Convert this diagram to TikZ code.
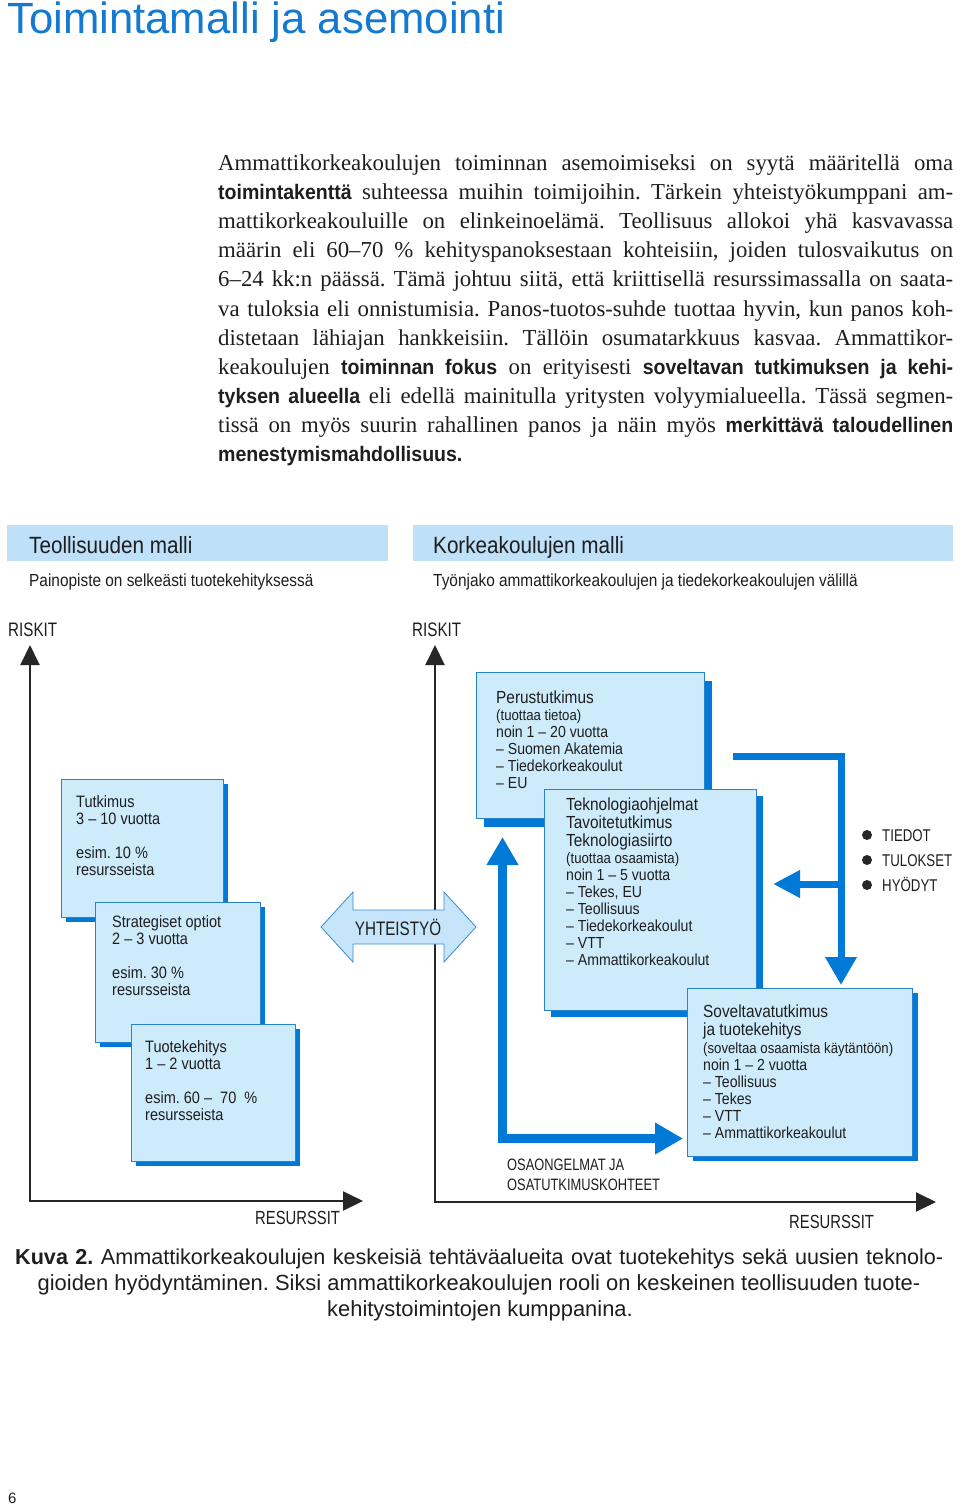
\documentclass[tikz,border=0pt]{standalone}
\usepackage{fontspec}
\setmainfont{Liberation Serif}
\newfontfamily\hv{Liberation Sans}
\newfontfamily\hvn[FakeStretch=0.88]{Liberation Sans}
\newfontfamily\hvc[FakeStretch=0.78]{Liberation Sans}
\newfontfamily\hvb[FakeStretch=0.93]{Liberation Sans}
\usetikzlibrary{arrows.meta,shadows}
\definecolor{titleblue}{RGB}{20,122,208}
\definecolor{hdrfill}{RGB}{190,224,248}
\definecolor{boxfill}{RGB}{206,235,252}
\definecolor{boxline}{RGB}{40,130,205}
\definecolor{sblue}{RGB}{0,122,214}
\definecolor{coopfill}{RGB}{198,229,250}
\definecolor{coopline}{RGB}{60,140,210}
\definecolor{ink}{RGB}{30,30,30}
\frenchspacing
\newcommand\fsz[1]{\fontsize{#1}{#1}\selectfont}
\newcommand\VL[1]{\vtop{\baselineskip=17pt\lineskiplimit=-100pt\lineskip=0pt\relax #1}}
\newcommand\LH[1]{\hbox{#1}}
\newcommand\Bsf[1]{{\hvb\bfseries\fsz{21}#1}}
\newcommand\PL[1]{\makebox[735pt][s]{#1}}
\tikzset{
  txt/.style={anchor=base west, inner sep=0pt, text=ink},
  hdr/.style={fill=hdrfill, draw=none, inner sep=0pt, anchor=north west},
  bx/.style={draw=boxline, line width=0.8pt, fill=boxfill, inner sep=0pt, anchor=north west},
  shA/.style={drop shadow={shadow xshift=5pt,shadow yshift=-5pt,fill=sblue,opacity=1}},
  shB/.style={drop shadow={shadow xshift=8pt,shadow yshift=-9pt,fill=sblue,opacity=1}},
  shC/.style={drop shadow={shadow xshift=7pt,shadow yshift=-7pt,fill=sblue,opacity=1}},
  shD/.style={drop shadow={shadow xshift=6pt,shadow yshift=-5pt,fill=sblue,opacity=1}},
  axis/.style={line width=2pt, draw=black!85, {Triangle[length=20pt,width=19pt]}-{Triangle[length=20pt,width=19pt]}},
  fat/.style={draw=sblue, line width=#1, line join=miter},
}
\begin{document}
\begin{tikzpicture}[x=1pt,y=-1pt]
\useasboundingbox (0,0) rectangle (960,1506);
\fill[white] (0,0) rectangle (960,1506);

% title
\node[anchor=base west, inner sep=0pt, text=titleblue, font=\hv\fsz{43.7}] (title) at (7,34) {Toimintamalli ja asemointi};

% paragraph
\begin{scope}[every node/.style={txt, font=\fsz{22.8}}]
\node (p1) at (218,171) {\PL{Ammattikorkeakoulujen toiminnan asemoimiseksi on syytä määritellä oma}};
\node (p2) at (218,200) {\PL{\Bsf{toimintakenttä} suhteessa muihin toimijoihin. Tärkein yhteistyökumppani am-}};
\node (p3) at (218,229) {\PL{mattikorkeakouluille on elinkeinoelämä. Teollisuus allokoi yhä kasvavassa}};
\node (p4) at (218,258) {\PL{määrin eli 60–70 \% kehityspanoksestaan kohteisiin, joiden tulosvaikutus on}};
\node (p5) at (218,287) {\PL{6–24 kk:n päässä. Tämä johtuu siitä, että kriittisellä resurssimassalla on saata-}};
\node (p6) at (218,316) {\PL{va tuloksia eli onnistumisia. Panos-tuotos-suhde tuottaa hyvin, kun panos koh-}};
\node (p7) at (218,345) {\PL{distetaan lähiajan hankkeisiin. Tällöin osumatarkkuus kasvaa. Ammattikor-}};
\node (p8) at (218,374) {\PL{keakoulujen \Bsf{toiminnan fokus} on erityisesti \Bsf{soveltavan tutkimuksen ja kehi-}}};
\node (p9) at (218,403) {\PL{\Bsf{tyksen alueella} eli edellä mainitulla yritysten volyymialueella. Tässä segmen-}};
\node (p10) at (218,432) {\PL{tissä on myös suurin rahallinen panos ja näin myös \Bsf{merkittävä taloudellinen}}};
\node (p11) at (218,461) {\Bsf{menestymismahdollisuus.}};
\end{scope}

% headers
\node[hdr, minimum width=381pt, minimum height=36pt] (hdrL) at (7,525) {};
\node[hdr, minimum width=540pt, minimum height=36pt] (hdrR) at (413,525) {};
\node[txt, font=\hvn\fsz{23.5}] (hdrLt) at (29,553) {Teollisuuden malli};
\node[txt, font=\hvn\fsz{23.5}] (hdrRt) at (433,553) {Korkeakoulujen malli};
\node[txt, font=\hvn\fsz{17.5}] (subL) at (29,586) {Painopiste on selkeästi tuotekehityksessä};
\node[txt, font=\hvn\fsz{17.5}] (subR) at (433,586) {Työnjako ammattikorkeakoulujen ja tiedekorkeakoulujen välillä};
\node[txt, font=\hvc\fsz{19.5}] (riskL) at (8,636) {RISKIT};
\node[txt, font=\hvc\fsz{19.5}] (riskR) at (412,636) {RISKIT};

% axes
\coordinate (lY) at (30,645);
\coordinate (lX) at (363,1201);
\coordinate (rY) at (435,645);
\coordinate (rX) at (936,1202);
\draw[axis] (lY) |- (lX);
\draw[axis] (rY) |- (rX);
\node[txt, font=\hvc\fsz{19}] (resL) at (255,1224) {RESURSSIT};
\node[txt, font=\hvc\fsz{19}] (resR) at (789,1228) {RESURSSIT};

% left boxes
\node[bx, shA, minimum width=162pt, minimum height=138pt] (tut) at (61,779) {};
\node[bx, shA, minimum width=165pt, minimum height=140pt] (str) at (95,902) {};
\node[bx, shA, minimum width=164pt, minimum height=137pt] (tuo) at (131,1024) {};
\node[txt, font=\hvn\fsz{16.5}] (tutT) at (76,807) {\VL{\LH{Tutkimus}\LH{3 – 10 vuotta}\LH{}\LH{esim. 10 \%}\LH{resursseista}}};
\node[txt, font=\hvn\fsz{16.5}] (strT) at (112,927) {\VL{\LH{Strategiset optiot}\LH{2 – 3 vuotta}\LH{}\LH{esim. 30 \%}\LH{resursseista}}};
\node[txt, font=\hvn\fsz{16.5}] (tuoT) at (145,1052) {\VL{\LH{Tuotekehitys}\LH{1 – 2 vuotta}\LH{}\LH{esim. 60 –\ \ 70\ \ \%}\LH{resursseista}}};

% cooperation arrow
\filldraw[fill=coopfill, draw=coopline, line width=0.8pt] (321,927) -- (353,892) -- (353,910) -- (444,910) -- (444,892) -- (476,927) -- (444,962) -- (444,944) -- (353,944) -- (353,962) -- cycle;
\node[anchor=base, inner sep=0pt, text=ink, font=\hvc\fsz{19.5}] (coop) at (398,935) {YHTEISTYÖ};

% right boxes
\node[bx, shB, minimum width=228pt, minimum height=146pt] (per) at (476,672) {};
\node[bx, shC, minimum width=212pt, minimum height=221pt] (tek) at (544,789) {};
\node[bx, shD, minimum width=225pt, minimum height=168pt] (sov) at (687,988) {};
\node[txt, font=\hvn\fsz{16}] (perT) at (496,703) {\VL{\LH{\fsz{17.5}Perustutkimus}\LH{\fsz{15}(tuottaa tietoa)}\LH{noin 1 – 20 vuotta}\LH{– Suomen Akatemia}\LH{– Tiedekorkeakoulut}\LH{– EU}}};
\node[txt, font=\hvn\fsz{16}] (tekT) at (566,810) {\VL{\baselineskip=18pt\LH{\fsz{17.5}Teknologiaohjelmat}\LH{\fsz{17.5}Tavoitetutkimus}\LH{\fsz{17.5}Teknologiasiirto}\baselineskip=17pt\LH{\fsz{15}(tuottaa osaamista)}\LH{noin 1 – 5 vuotta}\LH{– Tekes, EU}\LH{– Teollisuus}\LH{– Tiedekorkeakoulut}\LH{– VTT}\LH{– Ammattikorkeakoulut}}};
\node[txt, font=\hvn\fsz{16}] (sovT) at (703,1017) {\VL{\baselineskip=18pt\LH{\fsz{17.5}Soveltavatutkimus}\LH{\fsz{17.5}ja tuotekehitys}\LH{\fsz{15}(soveltaa osaamista käytäntöön)}\baselineskip=17pt\LH{noin 1 – 2 vuotta}\LH{– Teollisuus}\LH{– Tekes}\LH{– VTT}\LH{– Ammattikorkeakoulut}}};

% blue flow arrows
\coordinate (upTip) at (502.5,837);
\coordinate (rtTip) at (683,1138.5);
\draw[fat=9pt, {Triangle[length=28pt,width=30pt]}-{Triangle[length=28pt,width=30pt]}] (rtTip) -| (upTip);
\coordinate (perOut) at (733,756);
\coordinate (sovIn) at (841,985);
\coordinate (brA) at (841,884);
\coordinate (tekIn) at (773,884);
\draw[fat=7pt, -{Triangle[length=28pt,width=30pt]}] (perOut) -| (sovIn);
\draw[fat=7pt, -{Triangle[length=27pt,width=26pt]}] (brA) -- (tekIn);

\node[txt, font=\hvc\fsz{16.5}] (osa) at (507,1170) {\VL{\baselineskip=20pt\LH{OSAONGELMAT JA}\LH{OSATUTKIMUSKOHTEET}}};

% legend
\node[circle, fill=black!85, minimum size=10pt, inner sep=0pt] (b1) at (867,835) {};
\node[circle, fill=black!85, minimum size=10pt, inner sep=0pt] (b2) at (867,860) {};
\node[circle, fill=black!85, minimum size=10pt, inner sep=0pt] (b3) at (867,885) {};
\node[txt, font=\hvc\fsz{17}] (l1) at (882,841) {TIEDOT};
\node[txt, font=\hvc\fsz{17}] (l2) at (882,866) {TULOKSET};
\node[txt, font=\hvc\fsz{17}] (l3) at (882,891) {HYÖDYT};

% caption
\node[txt, font=\hv\fsz{21.6}] (cap1) at (15,1264) {\makebox[928pt][s]{{\bfseries Kuva 2.} Ammattikorkeakoulujen keskeisiä tehtäväalueita ovat tuotekehitys sekä uusien teknolo-}};
\node[anchor=base, inner sep=0pt, text=ink, font=\hv\fsz{21.9}] (cap2) at (479,1290) {gioiden hyödyntäminen. Siksi ammattikorkeakoulujen rooli on keskeinen teollisuuden tuote-};
\node[anchor=base, inner sep=0pt, text=ink, font=\hv\fsz{21.9}] (cap3) at (480,1316) {kehitystoimintojen kumppanina.};

\node[txt, font=\hv\fsz{15}] (pg) at (8,1503) {6};
\end{tikzpicture}
\end{document}
